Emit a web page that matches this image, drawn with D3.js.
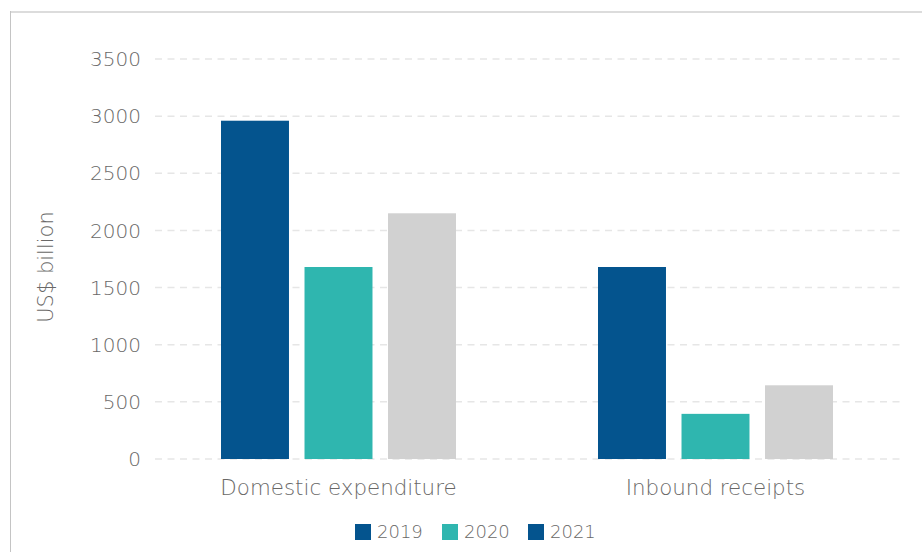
<!DOCTYPE html>
<html>
<head>
<meta charset="utf-8">
<script src="https://cdn.jsdelivr.net/npm/d3@7"></script>
<style>
  body { margin: 0; background: #fff; }
  svg { display: block; font-family: "DejaVu Sans", sans-serif; }
</style>
</head>
<body>
<svg width="922" height="552"></svg>
<script>
const categories = ["Domestic expenditure", "Inbound receipts"];
const years = ["2019", "2020", "2021"];
const values2019 = [2960, 1680];
const values2020 = [1680, 395];
const values2021 = [2150, 645];
const yTicks = [0, 500, 1000, 1500, 2000, 2500, 3000, 3500];

const barColors = ["#04548e", "#2fb6af", "#d1d1d1"];
const legendColors = ["#04548e", "#2fb6af", "#04548e"];

const series = [values2019, values2020, values2021];

const svg = d3.select("svg");

// frame
svg.append("line").attr("x1", 10).attr("x2", 922).attr("y1", 12).attr("y2", 12)
    .attr("stroke", "#dcdcdc").attr("stroke-width", 2);
svg.append("line").attr("x1", 10.5).attr("x2", 10.5).attr("y1", 11).attr("y2", 552)
    .attr("stroke", "#c4c4c4").attr("stroke-width", 1);

const y = d3.scaleLinear().domain([0, 3500]).range([459, 59]);

const x0 = d3.scaleBand().domain(categories).range([150, 904]);
const x1 = d3.scaleBand().domain(years).range([0, 235]).paddingInner(0.186);

// grid
svg.append("g")
    .selectAll("line")
    .data(yTicks)
    .join("line")
    .attr("x1", 155)
    .attr("x2", 901)
    .attr("y1", d => y(d))
    .attr("y2", d => y(d))
    .attr("stroke", "#e6e6e6")
    .attr("stroke-width", 1.5)
    .attr("stroke-dasharray", "7,5.5");

// y tick labels
svg.append("g")
    .selectAll("text")
    .data(yTicks)
    .join("text")
    .attr("x", 141)
    .attr("y", d => y(d))
    .attr("dy", "0.36em")
    .attr("text-anchor", "end")
    .attr("font-size", "20px")
    .attr("font-weight", 200)
    .attr("fill", "#696867")
    .text(d => d);

// y title
svg.append("text")
    .attr("transform", "translate(53,267) rotate(-90)")
    .attr("text-anchor", "middle")
    .attr("font-size", "21px")
    .attr("font-weight", 200)
    .attr("fill", "#696867")
    .text("US$ billion");

// bars
const groups = svg.append("g")
    .selectAll("g")
    .data(categories)
    .join("g")
    .attr("transform", d => `translate(${x0(d) + x0.bandwidth() / 2 - 117.5},0)`);

groups.selectAll("rect")
    .data((d, i) => years.map((yr, j) => ({ yr, v: series[j][i], c: barColors[j] })))
    .join("rect")
    .attr("x", d => x1(d.yr))
    .attr("width", x1.bandwidth())
    .attr("y", d => y(d.v))
    .attr("height", d => y(0) - y(d.v))
    .attr("fill", d => d.c);

// category labels
svg.append("g")
    .selectAll("text")
    .data(categories)
    .join("text")
    .attr("x", d => x0(d) + x0.bandwidth() / 2)
    .attr("y", 495)
    .attr("text-anchor", "middle")
    .attr("font-size", "21.4px")
    .attr("font-weight", 200)
    .attr("fill", "#696867")
    .text(d => d);

// legend
const legendX = [355, 442, 528];
const legend = svg.append("g")
    .selectAll("g")
    .data(years)
    .join("g")
    .attr("transform", (d, i) => `translate(${legendX[i]},524)`);

legend.append("rect")
    .attr("width", 16)
    .attr("height", 16)
    .attr("fill", (d, i) => legendColors[i]);

legend.append("text")
    .attr("x", 22)
    .attr("y", 8)
    .attr("dy", "0.36em")
    .attr("font-size", "18px")
    .attr("font-weight", 200)
    .attr("fill", "#696867")
    .text(d => d);
</script>
</body>
</html>
